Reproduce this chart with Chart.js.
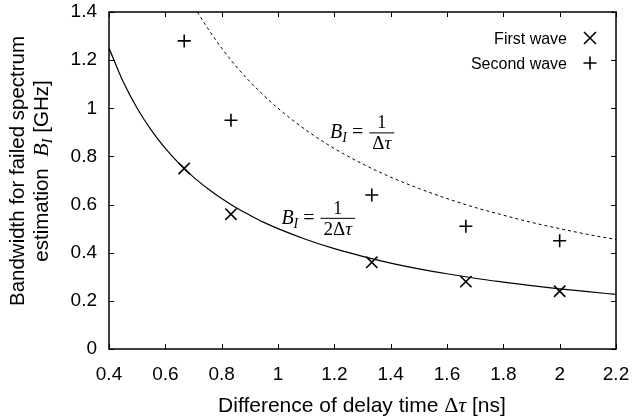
<!DOCTYPE html>
<html>
<head>
<meta charset="utf-8">
<script src="https://cdn.jsdelivr.net/npm/chart.js@4.4.1/dist/chart.umd.min.js"></script>
<style>
  html, body { margin: 0; padding: 0; background: #fff; }
  #plot { display: block; }
</style>
</head>
<body>
<canvas id="plot" width="635" height="420"></canvas>
<script>
// measured failure bandwidth vs. delay difference
var delayTimes = [0.667, 0.833, 1.333, 1.667, 2.0];
var firstWave = [0.75, 0.56, 0.36, 0.28, 0.24];
var secondWave = [1.28, 0.95, 0.64, 0.51, 0.45];

// B_I = 1/dtau
var invTau = [0.714, 0.75, 0.8, 0.85, 0.9, 0.95, 1.0, 1.1, 1.2, 1.3, 1.4, 1.5, 1.6, 1.7, 1.8, 1.9, 2.0, 2.1, 2.2];
var invValues = [1.4, 1.333, 1.25, 1.176, 1.111, 1.053, 1.0, 0.909, 0.833, 0.769, 0.714, 0.667, 0.625, 0.588, 0.556, 0.526, 0.5, 0.476, 0.455];

// B_I = 1/(2 dtau)
var halfTau = [0.4, 0.45, 0.5, 0.55, 0.6, 0.65, 0.7, 0.75, 0.8, 0.85, 0.9, 0.95, 1.0, 1.1, 1.2, 1.3, 1.4, 1.5, 1.6, 1.7, 1.8, 1.9, 2.0, 2.1, 2.2];
var halfValues = [1.25, 1.111, 1.0, 0.909, 0.833, 0.769, 0.714, 0.667, 0.625, 0.588, 0.556, 0.526, 0.5, 0.455, 0.417, 0.385, 0.357, 0.333, 0.3125, 0.294, 0.278, 0.263, 0.25, 0.238, 0.227];

var xTicks = [0.4, 0.6, 0.8, 1.0, 1.2, 1.4, 1.6, 1.8, 2.0, 2.2];
var yTicks = [0, 0.2, 0.4, 0.6, 0.8, 1.0, 1.2, 1.4];

var SANS = '"Liberation Sans", Arial, sans-serif';
var SERIF = '"Liberation Serif", "Times New Roman", serif';

function pairs(xs, ys) {
    return xs.map(function (x, i) { return {x: x, y: ys[i]}; });
}

// draws a run of differently styled text pieces as one line
function richText(ctx, parts, x, y, align) {
    var w = 0;
    parts.forEach(function (p) {
        ctx.font = p.font;
        p.w = ctx.measureText(p.text).width;
        w += p.w;
    });
    var cx = align === 'center' ? x - w / 2 : (align === 'right' ? x - w : x);
    parts.forEach(function (p) {
        ctx.font = p.font;
        ctx.fillText(p.text, cx, y + (p.dy || 0));
        cx += p.w;
    });
    return w;
}

function bSub(size) {
    return [
        {text: 'B', font: 'italic ' + size + 'px ' + SERIF},
        {text: 'I', font: 'italic ' + Math.round(size * 0.7) + 'px ' + SERIF, dy: 4}
    ];
}

// "B_I = 1 / den" with a stacked fraction
function fracLabel(ctx, x, y, den) {
    var w = richText(ctx, bSub(20).concat([{text: ' = ', font: '20px ' + SERIF}]), x, y, 'left');
    var dw = 0;
    den.forEach(function (p) { ctx.font = p.font; dw += ctx.measureText(p.text).width; });
    var barW = dw + 6;
    var bx = x + w + 1;
    var by = y - 6;
    ctx.fillRect(bx, by, barW, 1);
    richText(ctx, [{text: '1', font: '18px ' + SERIF}], bx + barW / 2, by - 4, 'center');
    richText(ctx, den, bx + barW / 2, by + 17, 'center');
}

var frame = {
    id: 'frame',
    afterDatasetsDraw: function (chart) {
        var ctx = chart.ctx, a = chart.chartArea;
        var xs = chart.scales.x, ys = chart.scales.y;
        ctx.save();
        ctx.strokeStyle = '#000';
        ctx.lineWidth = 1;
        ctx.beginPath();
        xTicks.forEach(function (v) {
            var px = Math.round(xs.getPixelForValue(v)) + 0.5;
            ctx.moveTo(px, a.bottom); ctx.lineTo(px, a.bottom - 5);
            ctx.moveTo(px, a.top); ctx.lineTo(px, a.top + 5);
        });
        yTicks.forEach(function (v) {
            var py = Math.round(ys.getPixelForValue(v)) + 0.5;
            ctx.moveTo(a.left, py); ctx.lineTo(a.left + 5, py);
            ctx.moveTo(a.right, py); ctx.lineTo(a.right - 5, py);
        });
        ctx.stroke();
        ctx.lineWidth = 1.5;
        ctx.strokeRect(a.left, a.top, a.right - a.left, a.bottom - a.top);

        ctx.fillStyle = '#000';
        ctx.textBaseline = 'alphabetic';

        // legend, text on the left of the marker
        richText(ctx, [{text: 'First wave', font: '16px ' + SANS}], 567, 44, 'right');
        richText(ctx, [{text: 'Second wave', font: '16px ' + SANS}], 567, 69, 'right');
        ctx.lineWidth = 1.6;
        ctx.beginPath();
        ctx.moveTo(584, 32); ctx.lineTo(596, 44);
        ctx.moveTo(596, 32); ctx.lineTo(584, 44);
        ctx.moveTo(583.5, 63); ctx.lineTo(596.5, 63);
        ctx.moveTo(590, 56.5); ctx.lineTo(590, 69.5);
        ctx.stroke();

        // curve annotations
        fracLabel(ctx, xs.getPixelForValue(1.185), ys.getPixelForValue(0.875), [
            {text: '\u0394', font: '19px ' + SERIF},
            {text: '\u03c4', font: 'italic 19px ' + SERIF}
        ]);
        fracLabel(ctx, xs.getPixelForValue(1.012), ys.getPixelForValue(0.52), [
            {text: '2\u0394', font: '19px ' + SERIF},
            {text: '\u03c4', font: 'italic 19px ' + SERIF}
        ]);

        // axis titles
        richText(ctx, [
            {text: 'Difference of delay time ', font: '21px ' + SANS},
            {text: '\u0394', font: '22px ' + SERIF},
            {text: '\u03c4', font: 'italic 22px ' + SERIF},
            {text: ' [ns]', font: '21px ' + SANS}
        ], 362, 412, 'center');

        ctx.translate(0, 171);
        ctx.rotate(-Math.PI / 2);
        richText(ctx, [{text: 'Bandwidth for failed spectrum', font: '20.5px ' + SANS}], 0, 24, 'center');
        richText(ctx, [{text: 'estimation  ', font: '20.5px ' + SANS}].concat(bSub(22)).concat([
            {text: ' [GHz]', font: '20.5px ' + SANS}
        ]), 0, 48, 'center');
        ctx.restore();
    }
};

new Chart(document.getElementById('plot'), {
    type: 'scatter',
    data: {
        datasets: [
            {
                label: 'First wave',
                data: pairs(delayTimes, firstWave),
                pointStyle: 'crossRot',
                pointRadius: 8,
                borderColor: '#000',
                pointBorderWidth: 1.6
            },
            {
                label: 'Second wave',
                data: pairs(delayTimes, secondWave),
                pointStyle: 'cross',
                pointRadius: 6.5,
                borderColor: '#000',
                pointBorderWidth: 1.6
            },
            {
                label: '1/dtau',
                data: pairs(invTau, invValues),
                showLine: true,
                pointRadius: 0,
                borderColor: '#000',
                borderWidth: 1,
                borderDash: [3, 3],
                cubicInterpolationMode: 'monotone'
            },
            {
                label: '1/(2dtau)',
                data: pairs(halfTau, halfValues),
                showLine: true,
                pointRadius: 0,
                borderColor: '#000',
                borderWidth: 1.2,
                cubicInterpolationMode: 'monotone'
            }
        ]
    },
    options: {
        responsive: false,
        animation: false,
        devicePixelRatio: 1,
        layout: {padding: {left: 0, top: 12, right: 19, bottom: 0}},
        plugins: {legend: {display: false}, tooltip: {enabled: false}},
        scales: {
            x: {
                type: 'linear',
                min: 0.4,
                max: 2.2,
                grid: {display: false, drawTicks: false},
                border: {display: false},
                afterBuildTicks: function (scale) {
                    scale.ticks = xTicks.map(function (v) { return {value: v}; });
                },
                afterFit: function (scale) {
                    scale.height = 71;
                    scale.paddingLeft = 0;
                    scale.paddingRight = 0;
                },
                ticks: {
                    color: '#000',
                    padding: 14,
                    font: {family: SANS, size: 19},
                    maxRotation: 0,
                    callback: function (v) { return String(v); }
                }
            },
            y: {
                type: 'linear',
                min: 0,
                max: 1.4,
                grid: {display: false, drawTicks: false},
                border: {display: false},
                afterBuildTicks: function (scale) {
                    scale.ticks = yTicks.map(function (v) { return {value: v}; });
                },
                afterFit: function (scale) {
                    scale.width = 109;
                    scale.paddingTop = 0;
                    scale.paddingBottom = 0;
                },
                ticks: {
                    color: '#000',
                    padding: 12,
                    font: {family: SANS, size: 19},
                    callback: function (v) { return String(v); }
                }
            }
        }
    },
    plugins: [frame]
});
</script>
</body>
</html>
